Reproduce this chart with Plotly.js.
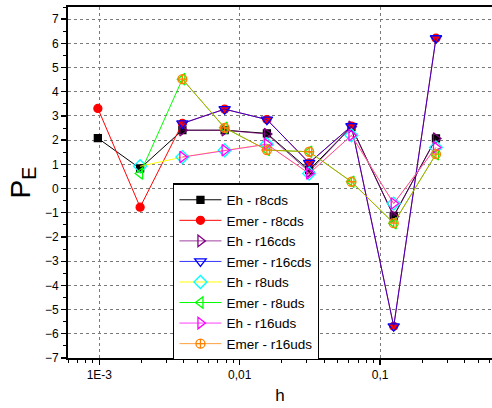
<!DOCTYPE html>
<html>
<head>
<meta charset="utf-8">
<script src="https://cdn.plot.ly/plotly-3.0.1.min.js"></script>
<style>html,body{margin:0;padding:0;background:#fff}#chart{width:492px;height:408px}</style>
</head>
<body>
<div id="chart"></div>
<script>
// step sizes h
var hAll = [0.0009765625, 0.001953125, 0.00390625, 0.0078125, 0.015625, 0.03125, 0.0625, 0.125, 0.25];
var hFrom512 = hAll.slice(1);
var hFrom256 = hAll.slice(2);

var ehR8cds    = [2.08, 0.83, 2.41, 2.41, 2.28, 0.76, 2.55, -1.13, 2.07];
var emerR8cds  = [3.31, -0.77, 2.69, 3.28, 2.85, 1.06, 2.58, -5.69, 6.21];
var ehR16cds   = [2.41, 2.41, 2.25, 0.69, 2.55, -1.15, 2.07];
var emerR16cds = [2.69, 3.28, 2.85, 1.06, 2.58, -5.69, 6.21];
var ehR8uds    = [0.92, 1.30, 1.58, 1.83, 0.62, 2.20, -0.62, 1.70];
var emerR8uds  = [0.62, 4.52, 2.51, 1.59, 1.52, 0.28, -1.43, 1.42];
var ehR16uds   = [1.30, 1.58, 1.83, 0.62, 2.20, -0.62, 1.70];
var emerR16uds = [4.52, 2.51, 1.59, 1.52, 0.28, -1.43, 1.42];

var names = ['Eh - r8cds', 'Emer - r8cds', 'Eh - r16cds', 'Emer - r16cds',
             'Eh - r8uds', 'Emer - r8uds', 'Eh - r16uds', 'Emer - r16uds'];

var xTickVals = [0.001, 0.01, 0.1];
var xTickText = ['1E-3', '0,01', '0,1'];

function mk(x, y, name, lineColor, symbol, mColor, size) {
  return {
    x: x, y: y, name: name, type: 'scatter', mode: 'lines+markers',
    line: {color: lineColor, width: 1},
    marker: {symbol: symbol, size: size, color: mColor,
             line: {color: mColor, width: 1.3}}
  };
}

var traces = [
  mk(hAll, ehR8cds, names[0], '#000000', 'square', '#000000', 7),
  mk(hAll, emerR8cds, names[1], '#ff0000', 'circle', '#ff0000', 8),
  mk(hFrom256, ehR16cds, names[2], 'rgba(128,0,128,0.75)', 'triangle-right-open', '#800080', 10),
  mk(hFrom256, emerR16cds, names[3], 'rgba(0,0,255,0.8)', 'triangle-down-open', '#0000ff', 10),
  mk(hFrom512, ehR8uds, names[4], '#ffff00', 'diamond-open', '#00ffff', 10),
  mk(hFrom512, emerR8uds, names[5], '#00ff00', 'triangle-left-open', '#00ff00', 10),
  mk(hFrom256, ehR16uds, names[6], 'rgba(255,0,255,0.75)', 'triangle-right-open', '#ff00ff', 10),
  mk(hFrom256, emerR16uds, names[7], 'rgba(255,128,0,0.75)', 'circle-cross-open', '#ff8000', 9)
];

var minorX = [];
[0.0001, 0.001, 0.01, 0.1].forEach(function (d) {
  for (var k = 2; k <= 9; k++) { var v = k * d; if (v > 0.0006 && v < 0.62) minorX.push(v); }
});

var layout = {
  width: 492, height: 408,
  margin: {l: 68, r: 0, t: 7, b: 50},
  paper_bgcolor: '#ffffff', plot_bgcolor: '#ffffff',
  font: {family: 'Liberation Sans, Arial, sans-serif', color: '#000', size: 12},
  showlegend: true,
  legend: {
    x: 0.248, y: 0.498, xanchor: 'left', yanchor: 'top',
    bgcolor: '#ffffff', bordercolor: '#000000', borderwidth: 1.3,
    font: {family: 'Liberation Sans, Arial, sans-serif', size: 13.5, color: '#000'},
    tracegroupgap: 0, itemwidth: 42
  },
  xaxis: {
    type: 'log', range: [-3.223, -0.203],
    tickmode: 'array', tickvals: xTickVals, ticktext: xTickText,
    ticks: 'outside', ticklen: 5, tickwidth: 1.3, tickcolor: '#000',
    showline: true, linewidth: 2, linecolor: '#000', mirror: true,
    showgrid: true, gridcolor: '#7a7a7a', gridwidth: 1, griddash: 'dot',
    zeroline: false,
    minor: {tickmode: 'array', tickvals: minorX, ticks: 'outside', ticklen: 3, tickwidth: 1, tickcolor: '#000', showgrid: false},
    title: {text: 'h', font: {size: 17, family: 'Liberation Sans, Arial, sans-serif'}, standoff: 8}
  },
  yaxis: {
    range: [-7, 7.5],
    tickmode: 'linear', tick0: -7, dtick: 1,
    ticks: 'outside', ticklen: 5, tickwidth: 1.3, tickcolor: '#000',
    showline: true, linewidth: 2, linecolor: '#000', mirror: false,
    showgrid: true, gridcolor: '#7a7a7a', gridwidth: 1, griddash: 'dot',
    zeroline: false,
    minor: {dtick: 0.5, tick0: -7, ticks: 'outside', ticklen: 3, tickwidth: 1, tickcolor: '#000', showgrid: false},
    title: {text: 'P<sub>E</sub>', font: {size: 28, family: 'Liberation Sans, Arial, sans-serif'}, standoff: 6}
  }
};

Plotly.newPlot('chart', traces, layout, {displayModeBar: false, staticPlot: true});
</script>
</body>
</html>
